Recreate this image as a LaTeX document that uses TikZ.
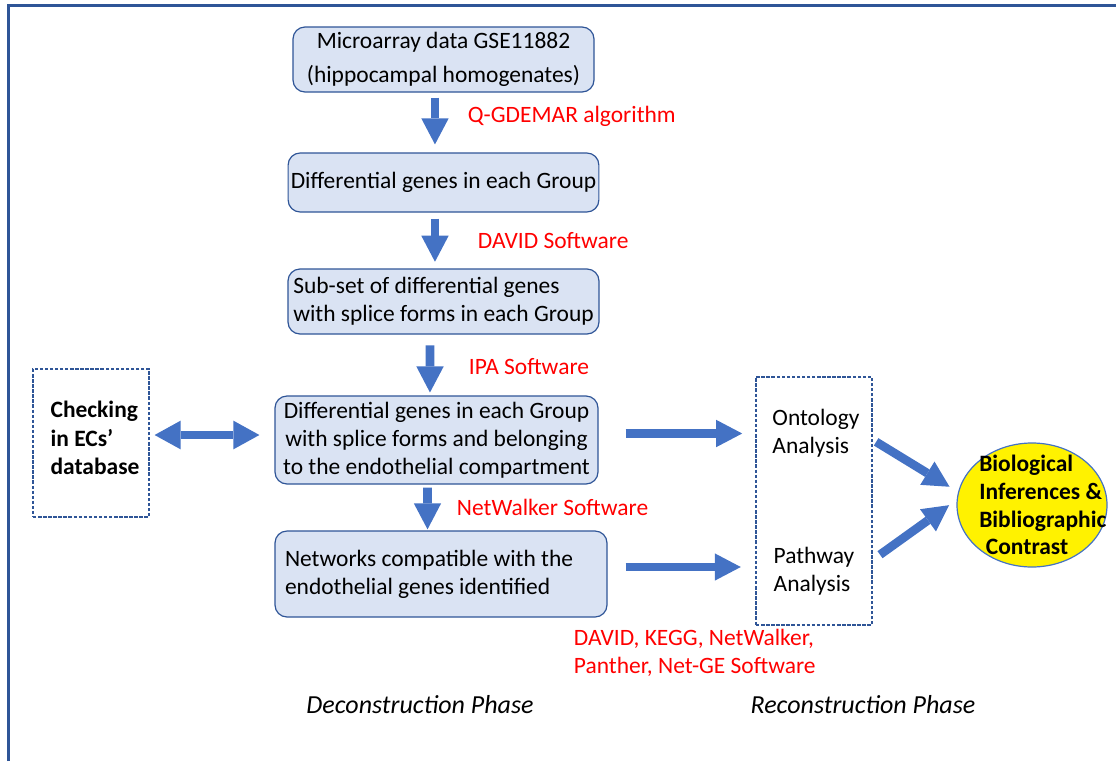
\documentclass[tikz,border=0pt]{standalone}
\usepackage{fontspec}
\setmainfont{Carlito}
\usepackage{xcolor}
\usetikzlibrary{shapes.geometric,arrows.meta,positioning}

\definecolor{boxfill}{HTML}{DAE3F3}
\definecolor{boxline}{HTML}{2F5597}
\definecolor{arrowblue}{HTML}{4472C4}
\definecolor{toolred}{HTML}{FF0000}

\begin{document}
\begin{tikzpicture}[
    x=0.75pt, y=-0.75pt,
    font=\fontsize{17.6pt}{20.8pt}\selectfont,
    stage/.style={rectangle, draw=boxline, line width=0.9pt, fill=boxfill, rounded corners=9pt, inner sep=2pt},
    tool/.style={anchor=west, text=toolred, inner sep=2pt},
    dashbox/.style={rectangle, draw=boxline, line width=0.9pt, dash pattern=on 2.6pt off 1.2pt},
    phase/.style={font=\fontsize{19.5pt}{22pt}\selectfont\itshape, inner sep=2pt},
    flow/.style={draw=arrowblue, line width=6.5pt, -{Triangle[length=19.5pt, width=20.5pt, line width=0pt]}},
    twoway/.style={draw=arrowblue, line width=6.5pt, {Triangle[length=19.5pt, width=21.5pt, line width=0pt]}-{Triangle[length=19.5pt, width=21.5pt, line width=0pt]}},
    frame/.style={draw=boxline, line width=1.6pt}
]
\useasboundingbox (0,0) rectangle (1116,761);

% outer frame (only left and top edges fall inside)
\draw[frame] (8.5,761) -- (8.5,5.5) -- (1116,5.5);

% deconstruction steps
\node[stage, minimum width=225.75pt, minimum height=48.75pt, align=center] (s1) at (443.5,59.5)
    {Microarray data GSE11882\\[4.5pt](hippocampal homogenates)};
\node[stage, minimum width=231.75pt, minimum height=44.25pt] (s2) at (443.5,182.5)
    {Differential genes in each Group};
\node[stage, minimum width=233.25pt, minimum height=48.75pt, align=flush left] (s3) at (443.5,301.5)
    {Sub-set of differential genes\\with splice forms in each Group};
\node[stage, minimum width=242.25pt, minimum height=66pt, align=center] (s4) at (436.5,440)
    {Differential genes in each Group\\with splice forms and belonging\\to the endothelial compartment};
\node[stage, minimum width=249pt, minimum height=64.5pt, text width=234pt, inner xsep=7.5pt, align=flush left] (s5) at (441,574)
    {Networks compatible with the\\endothelial genes identified\\[-3pt]};

% tools used between steps
\node[tool] (t1) at (465,116) {Q-GDEMAR algorithm};
\node[tool] (t2) at (475,241) {DAVID Software};
\node[tool] (t3) at (466,367) {IPA Software};
\node[tool] (t4) at (454,507) {NetWalker Software};
\node[tool, align=flush left] (t5) at (571,653) {DAVID, KEGG, NetWalker,\\Panther, Net-GE Software};

\draw[flow, shorten <=3.75pt, shorten >=6pt] ([xshift=-6.4pt]s1.south) -- ([xshift=-6.4pt]s2.north);
\draw[flow, shorten <=4.5pt, shorten >=5pt] ([xshift=-6.4pt]s2.south) -- ([xshift=-6.4pt]s3.north);
\draw[flow, shorten <=8pt, shorten >=2.2pt] ([xshift=-10.1pt]s3.south) -- ([xshift=-4.9pt]s4.north);
\draw[flow, shorten <=2.2pt, shorten >=0.8pt] ([xshift=-6.8pt]s4.south) -- ([xshift=-10.1pt]s5.north);

% endothelial database check
\node[dashbox, minimum width=87pt, minimum height=111pt] (chk) at (91,443) {};
\node[font=\fontsize{17.6pt}{21.5pt}\selectfont\bfseries, align=flush left] (chktxt) at (95,438)
    {Checking\\in ECs'\\database};
\draw[twoway, shorten <=3.75pt, shorten >=11.25pt] ([yshift=6pt]chk.east) -- ([yshift=6pt]chk.east -| s4.west);

% reconstruction
\node[dashbox, minimum width=87pt, minimum height=186pt] (rbox) at (814,501) {};
\node[align=flush left, inner sep=2pt] (onto) at (816,433.5) {Ontology\\Analysis};
\node[align=flush left, inner sep=2pt] (path) at (814,571) {Pathway\\Analysis};
\draw[flow, shorten <=20.25pt, shorten >=20.5pt] (s4.east |- onto) -- (onto.west);
\draw[flow, shorten <=13.5pt, shorten >=22.5pt] ([yshift=3pt]s5.east |- path) -- ([yshift=3pt]path.west);

% outcome
\node[ellipse, draw=arrowblue, line width=0.9pt, fill=yellow, minimum width=112.5pt, minimum height=93pt] (bio) at (1032,505) {};
\node[font=\fontsize{17.6pt}{20.8pt}\selectfont\bfseries, align=flush left, anchor=west, inner sep=0pt] (biotxt) at (979,505)
    {Biological\\Inferences \&\\Bibliographic\\\hspace{5pt}Contrast};
\draw[flow, shorten <=12pt, shorten >=7.5pt] (onto.east) -- (bio.170);
\draw[flow, shorten <=21pt, shorten >=7pt] (path.east) -- (bio.176);

% phase captions
\node[phase] (dec) at (420,705) {Deconstruction Phase};
\node[phase] (rec) at (863,705) {Reconstruction Phase};

\end{tikzpicture}
\end{document}
